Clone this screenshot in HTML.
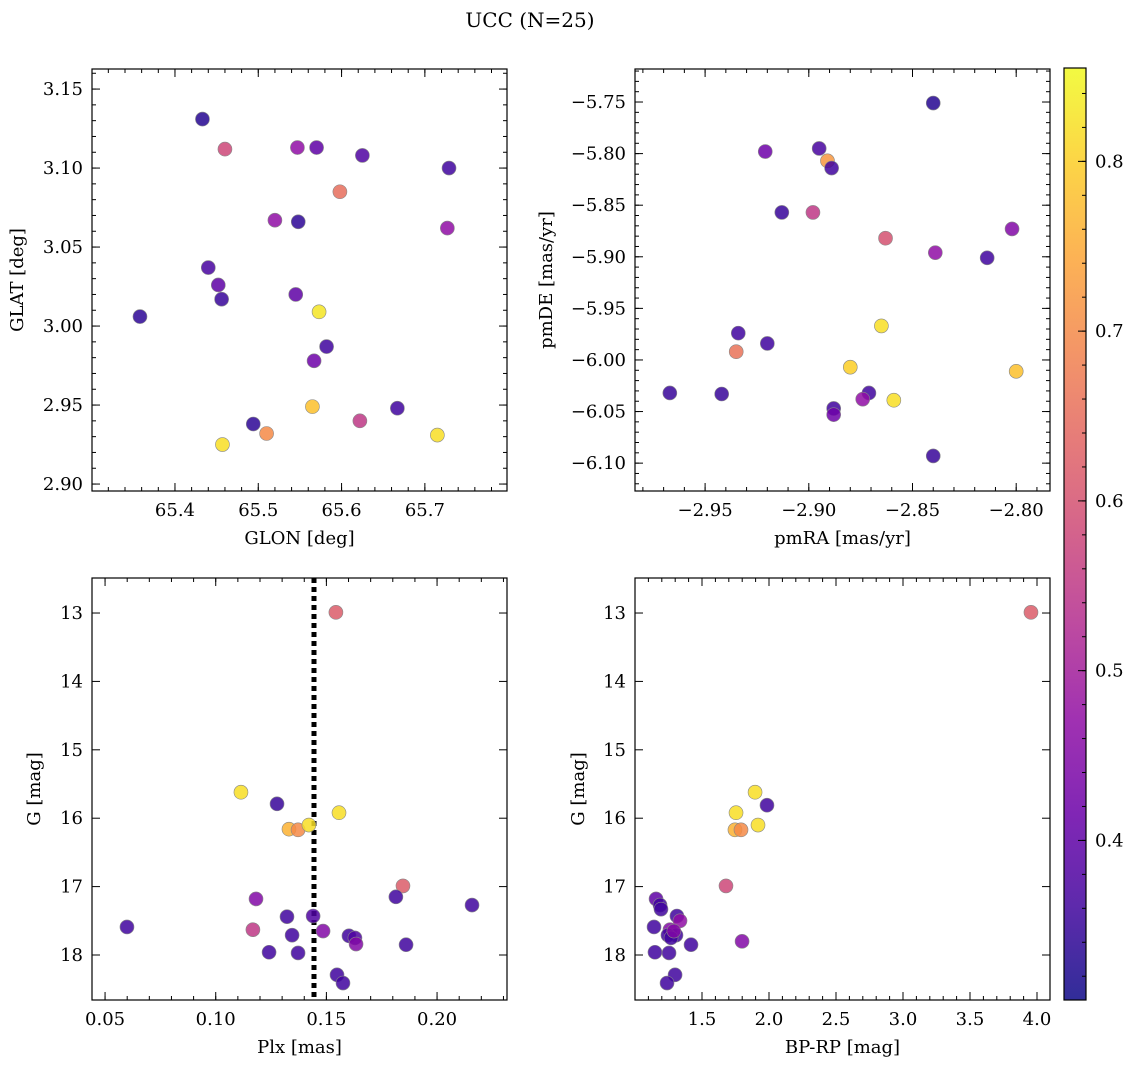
<!DOCTYPE html>
<html><head><meta charset="utf-8"><style>
body{margin:0;background:#fff;width:1136px;height:1068px;overflow:hidden}
svg{font-family:"DejaVu Serif","Liberation Serif",serif}
</style></head><body>
<svg id="c" width="1136" height="1068">
<text x="530" y="27" text-anchor="middle" font-size="20">UCC (N=25)</text>
</svg>
<script>
// ---- data ----
const tlGlon=[65.433,65.460,65.547,65.570,65.625,65.729,65.598,65.520,65.548,65.727,65.440,65.452,65.456,65.545,65.573,65.358,65.582,65.567,65.565,65.667,65.494,65.622,65.510,65.715,65.457];
const tlGlat=[3.131,3.112,3.113,3.113,3.108,3.100,3.085,3.067,3.066,3.062,3.037,3.026,3.017,3.020,3.009,3.006,2.987,2.978,2.949,2.948,2.938,2.940,2.932,2.931,2.925];
const tlProb=[0.33,0.58,0.47,0.40,0.38,0.36,0.65,0.47,0.34,0.47,0.37,0.40,0.35,0.40,0.83,0.34,0.36,0.42,0.78,0.36,0.34,0.55,0.70,0.82,0.82];
const trPmra=[-2.840,-2.921,-2.895,-2.891,-2.889,-2.913,-2.898,-2.863,-2.802,-2.839,-2.814,-2.865,-2.934,-2.920,-2.935,-2.880,-2.800,-2.967,-2.942,-2.871,-2.874,-2.859,-2.888,-2.888,-2.840];
const trPmde=[-5.751,-5.798,-5.795,-5.807,-5.814,-5.857,-5.857,-5.882,-5.873,-5.896,-5.901,-5.967,-5.974,-5.984,-5.992,-6.007,-6.011,-6.032,-6.033,-6.032,-6.038,-6.039,-6.047,-6.053,-6.093];
const trProb=[0.33,0.42,0.37,0.72,0.36,0.35,0.55,0.60,0.45,0.47,0.36,0.82,0.36,0.36,0.66,0.80,0.78,0.35,0.35,0.36,0.47,0.82,0.36,0.42,0.35];
const blPlx=[0.1543,0.1114,0.1277,0.1557,0.1331,0.1372,0.1421,0.1846,0.1814,0.2158,0.1182,0.1322,0.1440,0.1168,0.0599,0.1485,0.1345,0.1602,0.1629,0.1634,0.1860,0.1241,0.1372,0.1548,0.1575];
const blG=[12.99,15.62,15.79,15.92,16.16,16.17,16.10,16.99,17.15,17.27,17.18,17.44,17.43,17.63,17.59,17.65,17.71,17.72,17.75,17.84,17.85,17.96,17.97,18.29,18.41];
const blProb=[0.62,0.82,0.35,0.82,0.76,0.70,0.82,0.62,0.36,0.36,0.45,0.36,0.38,0.55,0.36,0.45,0.36,0.36,0.38,0.45,0.36,0.36,0.36,0.36,0.36];
const plxLine=0.1444;
const brCol=[3.955,1.896,1.985,1.754,1.918,1.746,1.791,1.679,1.157,1.187,1.194,1.313,1.336,1.261,1.306,1.246,1.142,1.269,1.418,1.799,1.149,1.254,1.299,1.239,1.290];
const brG=[12.99,15.62,15.81,15.92,16.10,16.17,16.17,16.99,17.18,17.27,17.33,17.43,17.50,17.63,17.71,17.71,17.59,17.75,17.85,17.80,17.96,17.97,18.29,18.41,17.65];
const brProb=[0.62,0.82,0.36,0.82,0.82,0.76,0.70,0.58,0.40,0.36,0.36,0.36,0.47,0.45,0.36,0.36,0.36,0.36,0.36,0.45,0.36,0.36,0.36,0.36,0.45];
const cMin=0.306,cMax=0.855;
// ---- helpers ----
const svg=document.getElementById('c');const NS='http://www.w3.org/2000/svg';
function mk(t,a,p){const e=document.createElementNS(NS,t);for(const k in a)e.setAttribute(k,a[k]);(p||svg).appendChild(e);return e;}
const stops=['#0d0887','#41049d','#6a00a8','#8f0da4','#b12a90','#cc4778','#e16462','#f2844b','#fca636','#fcce25','#f0f921'];
function hx(h){return [1,3,5].map(i=>parseInt(h.substr(i,2),16));}
function plasma(t){t=Math.max(0,Math.min(1,t))*10;const i=Math.min(9,Math.floor(t)),f=t-i;const a=hx(stops[i]),b=hx(stops[i+1]);return 'rgb('+a.map((v,k)=>Math.round(v+(b[k]-v)*f)).join(',')+')';}
function cnorm(v){return (v-cMin)/(cMax-cMin);}
function fmt(v,d){const s=Math.abs(v).toFixed(d);return (v<-1e-9?'\u2212':'')+s;}
const TF=18;
function panel(o){
 const {x0,x1,y0,y1,xmin,xmax,ymin,ymax,name}=o;
 const sx=v=>x0+(v-xmin)/(xmax-xmin)*(x1-x0);
 const sy=v=>y1-(v-ymin)/(ymax-ymin)*(y1-y0);
 const g=mk('g',{});
 
 
 if(o.vline!==undefined){const l=mk('line',{x1:sx(o.vline),x2:sx(o.vline),y1:y0,y2:y1,stroke:'#000','stroke-width':5,'stroke-dasharray':'5,4'},g);
  
  }
 o.xs.forEach((v,i)=>{const c=mk('circle',{cx:sx(v),cy:sy(o.ys[i]),r:7,fill:plasma(cnorm(o.cs[i])),'fill-opacity':0.85,stroke:'#888','stroke-width':0.6},g);
  
  });
 mk('rect',{x:x0,y:y0,width:x1-x0,height:y1-y0,fill:'none',stroke:'#000','stroke-width':1.2},g);
 const eps=1e-9;
 for(let v=Math.ceil(xmin/o.xmi-eps)*o.xmi;v<=xmax+eps;v+=o.xmi){const X=sx(v);mk('line',{x1:X,x2:X,y1:y1,y2:y1-4,stroke:'#000'},g);mk('line',{x1:X,x2:X,y1:y0,y2:y0+4,stroke:'#000'},g);}
 for(let v=Math.ceil(ymin/o.ymi-eps)*o.ymi;v<=ymax+eps;v+=o.ymi){const Y=sy(v);mk('line',{x1:x0,x2:x0+4,y1:Y,y2:Y,stroke:'#000'},g);mk('line',{x1:x1,x2:x1-4,y1:Y,y2:Y,stroke:'#000'},g);}
 o.xt.forEach(v=>{const X=sx(v);mk('line',{x1:X,x2:X,y1:y1,y2:y1-8,stroke:'#000'},g);mk('line',{x1:X,x2:X,y1:y0,y2:y0+8,stroke:'#000'},g);
  const t=mk('text',{x:X,y:y1+25,'text-anchor':'middle','font-size':TF},g);t.textContent=fmt(v,o.xd);
  
  });
 o.yt.forEach(v=>{const Y=sy(v);mk('line',{x1:x0,x2:x0+8,y1:Y,y2:Y,stroke:'#000'},g);mk('line',{x1:x1,x2:x1-8,y1:Y,y2:Y,stroke:'#000'},g);
  const t=mk('text',{x:x0-9,y:Y+6,'text-anchor':'end','font-size':TF},g);t.textContent=fmt(v,o.yd);
  
  });
 const xl=mk('text',{x:(x0+x1)/2,y:y1+53,'text-anchor':'middle','font-size':18},g);xl.textContent=o.xl;
 
 
 const yl=mk('text',{x:o.ylx,y:(y0+y1)/2,'text-anchor':'middle','font-size':18,transform:'rotate(-90 '+o.ylx+' '+(y0+y1)/2+')'},g);yl.textContent=o.yl;
 
 
}
function rng(a,b,s){const r=[];for(let v=a;v<=b+1e-9;v+=s)r.push(+v.toFixed(6));return r;}
panel({name:'glon-glat-panel',x0:92,x1:507,y0:69,y1:491,xmin:65.3004,xmax:65.7986,ymin:2.8956,ymax:3.1627,xs:tlGlon,ys:tlGlat,cs:tlProb,xt:rng(65.4,65.7,0.1),yt:rng(2.9,3.15,0.05),xmi:0.02,ymi:0.01,xd:1,yd:2,xl:'GLON [deg]',yl:'GLAT [deg]',ylx:23});
panel({name:'proper-motion-panel',x0:635,x1:1050,y0:69,y1:491,xmin:-2.9838,xmax:-2.7837,ymin:-6.127,ymax:-5.718,xs:trPmra,ys:trPmde,cs:trProb,xt:rng(-2.95,-2.8,0.05),yt:rng(-6.1,-5.75,0.05),xmi:0.01,ymi:0.01,xd:2,yd:2,xl:'pmRA [mas/yr]',yl:'pmDE [mas/yr]',ylx:552});
panel({name:'plx-g-panel',x0:92,x1:507,y0:578,y1:1000,xmin:0.0441,xmax:0.2316,ymin:18.658,ymax:12.488,xs:blPlx,ys:blG,cs:blProb,xt:rng(0.05,0.2,0.05),yt:rng(13,18,1),xmi:0.01,ymi:0.2,xd:2,yd:0,xl:'Plx [mas]',yl:'G [mag]',ylx:40,vline:plxLine});
panel({name:'cmd-panel',x0:635,x1:1050,y0:578,y1:1000,xmin:1.0,xmax:4.097,ymin:18.658,ymax:12.488,xs:brCol,ys:brG,cs:brProb,xt:rng(1.5,4.0,0.5),yt:rng(13,18,1),xmi:0.1,ymi:0.2,xd:1,yd:0,xl:'BP-RP [mag]',yl:'G [mag]',ylx:584});
// colorbar
const cb=mk('g',{});


const cy0=68,cy1=1000,cx0=1064,cx1=1086;
const defs=mk('defs',{},cb);const lg=mk('linearGradient',{id:'pg',x1:0,y1:1,x2:0,y2:0},defs);
for(let i=0;i<=20;i++)mk('stop',{offset:i/20,'stop-color':plasma(i/20),'stop-opacity':0.85},lg);
mk('rect',{x:cx0,y:cy0,width:cx1-cx0,height:cy1-cy0,fill:'url(#pg)',stroke:'#000','stroke-width':1.2},cb);
const cyS=v=>cy1-(v-cMin)/(cMax-cMin)*(cy1-cy0);
for(let v=0.32;v<=cMax;v+=0.02){const Y=cyS(v);mk('line',{x1:cx1,x2:cx1-4,y1:Y,y2:Y,stroke:'#000'},cb);}
[0.4,0.5,0.6,0.7,0.8].forEach(v=>{const Y=cyS(v);mk('line',{x1:cx1,x2:cx1-8,y1:Y,y2:Y,stroke:'#000'},cb);
 const t=mk('text',{x:cx1+9,y:Y+6,'font-size':TF},cb);t.textContent=v.toFixed(1);
 
 });
</script>
</body></html>
